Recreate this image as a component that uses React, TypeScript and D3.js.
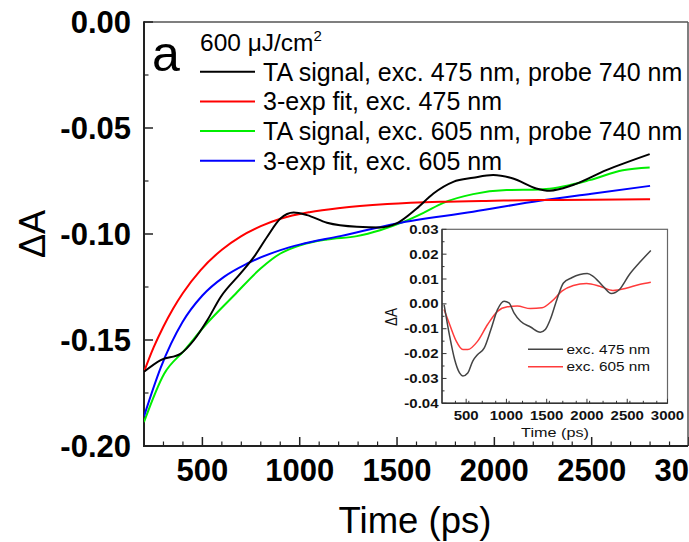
import React from "react";
import * as d3 from "d3";

// ---------- data ----------
const taX475 = [200, 286, 389, 457, 525, 594, 696, 765, 833, 901, 969, 1038, 1140, 1294, 1413, 1498, 1601, 1687, 1789, 1891, 1994, 2096, 2215, 2284, 2404, 2575, 2798];
const taY475 = [-0.1650, -0.1595, -0.1564, -0.150, -0.1407, -0.1297, -0.1186, -0.1108, -0.1013, -0.0927, -0.0899, -0.0911, -0.0947, -0.0966, -0.0969, -0.0950, -0.0880, -0.0809, -0.0754, -0.0735, -0.0722, -0.0738, -0.0785, -0.0796, -0.0769, -0.0699, -0.0623];

const fitX475 = [200, 250, 300, 350, 400, 491, 600, 696, 800, 901, 1050, 1208, 1450, 1721, 2000, 2233, 2500, 2800];
const fitY475 = [-0.165, -0.1534, -0.1436, -0.1351, -0.1278, -0.1170, -0.1074, -0.1012, -0.0963, -0.0928, -0.0897, -0.0877, -0.0859, -0.0848, -0.0843, -0.0840, -0.0838, -0.0836];

const taX605 = [200, 303, 406, 525, 662, 799, 901, 1004, 1140, 1294, 1413, 1533, 1636, 1738, 1891, 2063, 2233, 2266, 2489, 2660, 2798];
const taY605 = [-0.1887, -0.166, -0.155, -0.142, -0.129, -0.1163, -0.1092, -0.1053, -0.1026, -0.1010, -0.0982, -0.0943, -0.0900, -0.0853, -0.0812, -0.0793, -0.0790, -0.0788, -0.0746, -0.0699, -0.0686];

const fitX605 = [200, 286, 398, 500, 611, 731, 901, 1004, 1208, 1498, 1891, 2233, 2500, 2800];
const fitY605 = [-0.186, -0.163, -0.1415, -0.129, -0.1202, -0.1139, -0.1076, -0.1049, -0.1010, -0.0950, -0.0895, -0.0843, -0.0810, -0.0773];

const insX475 = [226, 295, 357, 418, 459, 520, 582, 643, 725, 807, 889, 971, 1032, 1094, 1176, 1299, 1421, 1483, 1544, 1626, 1708, 1810, 1913, 2003, 2077, 2199, 2302, 2404, 2527, 2650, 2793];
const insY475 = [-0.0003, -0.013, -0.0224, -0.0278, -0.0290, -0.0278, -0.0230, -0.0204, -0.0177, -0.0103, -0.0023, 0.0011, 0.0004, -0.0036, -0.0070, -0.0093, -0.0114, -0.0103, -0.0063, 0.0017, 0.0084, 0.0105, 0.0118, 0.0122, 0.0111, 0.0071, 0.0042, 0.0058, 0.0118, 0.0165, 0.0215];

const insX605 = [226, 295, 377, 459, 520, 643, 766, 889, 1012, 1135, 1299, 1442, 1565, 1688, 1831, 1995, 2159, 2322, 2486, 2650, 2793];
const insY605 = [-0.0023, -0.0083, -0.0150, -0.0184, -0.0184, -0.0150, -0.0083, -0.0030, -0.0012, -0.0009, -0.0019, -0.0016, 0.0011, 0.0051, 0.0074, 0.0082, 0.0071, 0.0054, 0.0063, 0.0078, 0.0087];

const mainXTicks = [500, 1000, 1500, 2000, 2500, 3000];
const mainYTicks = [0, -0.05, -0.1, -0.15, -0.2];
const insXTicks = [500, 1000, 1500, 2000, 2500, 3000];
const insYTicks = [0.03, 0.02, 0.01, 0, -0.01, -0.02, -0.03, -0.04];

const legendLabels = [
  "TA signal, exc. 475 nm, probe 740 nm",
  "3-exp fit, exc. 475 nm",
  "TA signal, exc. 605 nm, probe 740 nm",
  "3-exp fit, exc. 605 nm",
];
const legendColors = ["#000000", "#ff0000", "#00ee00", "#0000ff"];
const insLegendLabels = ["exc. 475 nm", "exc. 605 nm"];
const insColors = ["#444444", "#ff3b3b"];

const FONT = "'Liberation Sans', Arial, Helvetica, sans-serif";

export default function App() {
  const W = 689, H = 542;
  const x = d3.scaleLinear().domain([200, 3000]).range([144, 689]);
  const y = d3.scaleLinear().domain([-0.2, 0]).range([446, 22]);
  const xi = d3.scaleLinear().domain([200, 3000]).range([442, 667.5]);
  const yi = d3.scaleLinear().domain([-0.04, 0.03]).range([403.3, 229.3]);

  const mk = (xs: number[], ys: number[], sx: any, sy: any) =>
    d3.line<number>().x((_, i) => sx(xs[i])).y((d) => sy(d)).curve(d3.curveMonotoneX)(ys) || "";

  const mainSeries = [
    { xs: taX605, ys: taY605, c: legendColors[2] },
    { xs: fitX605, ys: fitY605, c: legendColors[3] },
    { xs: fitX475, ys: fitY475, c: legendColors[1] },
    { xs: taX475, ys: taY475, c: legendColors[0] },
  ];

  const minorX = d3.range(300, 3000, 100).filter((v) => v % 500 !== 0);
  const minorY = d3.range(-0.175, 0, 0.05);
  const insMinorX = d3.range(200, 3000, 500 / 3).map((v) => Math.round(v)).filter((v) => v % 500 > 5 && v % 500 < 495 && v > 210);
  const insMinorY = d3.range(-0.035, 0.03, 0.01);

  const x0 = 144, x1 = 688, y0 = 446, y1 = 22;
  const ix0 = 442, ix1 = 667.5, iy0 = 403.3, iy1 = 229.3;

  return (
    <svg width={W} height={H} style={{ position: "absolute", left: 0, top: 0, background: "#fff" }} fontFamily={FONT}>
      <rect x={0} y={0} width={W} height={H} fill="#fff" />
      <defs>
        <clipPath id="mainclip">
          <rect x={x0} y={y1} width={x1 - x0} height={y0 - y1} />
        </clipPath>
      </defs>

      {/* main frame */}
      <line x1={x0} x2={x1} y1={y1} y2={y1} stroke="#555" strokeWidth={1.5} />
      <line x1={x1} x2={x1} y1={y1} y2={y0} stroke="#555" strokeWidth={1.5} />
      <line x1={x0} x2={x0} y1={y1 - 0.75} y2={y0} stroke="#222" strokeWidth={2} />
      <line x1={x0 - 1} x2={x1} y1={y0} y2={y0} stroke="#222" strokeWidth={2} />

      {/* main ticks */}
      {mainXTicks.map((t) => (
        <line key={"mx" + t} x1={x(t)} x2={x(t)} y1={y0} y2={y0 - 9} stroke="#222" strokeWidth={1.5} />
      ))}
      {minorX.map((t) => (
        <line key={"mmx" + t} x1={x(t)} x2={x(t)} y1={y0} y2={y0 - 4.5} stroke="#222" strokeWidth={1.2} />
      ))}
      {mainYTicks.map((t) => (
        <line key={"my" + t} x1={x0} x2={x0 + 9} y1={y(t)} y2={y(t)} stroke="#222" strokeWidth={1.5} />
      ))}
      {minorY.map((t) => (
        <line key={"mmy" + t} x1={x0} x2={x0 + 4.5} y1={y(t)} y2={y(t)} stroke="#222" strokeWidth={1.2} />
      ))}

      {/* main tick labels */}
      {mainXTicks.map((t) => (
        <text key={"lx" + t} x={x(t)} y={480.5} textAnchor="middle" fontSize={31} fontWeight="bold" fill="#000">
          {t}
        </text>
      ))}
      {mainYTicks.map((t) => (
        <text key={"ly" + t} x={131} y={y(t) + 11} textAnchor="end" fontSize={31} fontWeight="bold" fill="#000">
          {d3.format(".2f")(t).replace("−", "-")}
        </text>
      ))}

      {/* axis titles */}
      <text x={415} y={533} textAnchor="middle" fontSize={36.5} fill="#000">Time (ps)</text>
      <text transform={`translate(45,234) rotate(-90)`} textAnchor="middle" fontSize={36} fill="#000">ΔA</text>

      {/* main curves */}
      <g clipPath="url(#mainclip)">
        {mainSeries.map((s, i) => (
          <path key={"ms" + i} d={mk(s.xs, s.ys, x, y)} fill="none" stroke={s.c} strokeWidth={2} />
        ))}
      </g>

      {/* panel letter and legend */}
      <text x={152} y={71} fontSize={50} fill="#000">a</text>
      <text x={200} y={51} fontSize={24.5} fill="#000">
        600 μJ/cm<tspan fontSize={15} dy={-10}>2</tspan>
      </text>
      {legendLabels.map((lab, i) => {
        const ly = 71.7 + i * 29.7;
        return (
          <g key={"lg" + i}>
            <line x1={200} x2={255} y1={ly} y2={ly} stroke={legendColors[i]} strokeWidth={2} />
            <text x={263} y={ly + 9} fontSize={25} fill="#000">{lab}</text>
          </g>
        );
      })}

      {/* inset */}
      <rect x={ix0} y={iy1} width={ix1 - ix0} height={iy0 - iy1} fill="#fff" stroke="#666" strokeWidth={1.2} />
      <line x1={ix0} x2={ix1} y1={iy0} y2={iy0} stroke="#333" strokeWidth={1.4} />
      <line x1={ix0} x2={ix0} y1={iy1} y2={iy0} stroke="#333" strokeWidth={1.4} />
      {insXTicks.map((t) => (
        <line key={"ix" + t} x1={xi(t)} x2={xi(t)} y1={iy0} y2={iy0 - 4.5} stroke="#333" strokeWidth={1} />
      ))}
      {insMinorX.map((t) => (
        <line key={"imx" + t} x1={xi(t)} x2={xi(t)} y1={iy0} y2={iy0 - 2.5} stroke="#333" strokeWidth={1} />
      ))}
      {insYTicks.map((t) => (
        <line key={"iy" + t} x1={ix0} x2={ix0 + 4.5} y1={yi(t)} y2={yi(t)} stroke="#333" strokeWidth={1} />
      ))}
      {insMinorY.map((t) => (
        <line key={"imy" + t} x1={ix0} x2={ix0 + 2.5} y1={yi(t)} y2={yi(t)} stroke="#333" strokeWidth={1} />
      ))}
      {insXTicks.map((t) => (
        <text key={"ilx" + t} transform={`translate(${xi(t)},419.5) scale(1.2,1)`} textAnchor="middle" fontSize={12.5} fontWeight="bold" fill="#111">
          {t}
        </text>
      ))}
      {insYTicks.map((t) => (
        <text key={"ily" + t} transform={`translate(438.5,${yi(t) + 4.5}) scale(1.2,1)`} textAnchor="end" fontSize={12.5} fontWeight="bold" fill="#111">
          {d3.format(".2f")(t).replace("−", "-")}
        </text>
      ))}
      <text transform={`translate(555,437) scale(1.2,1)`} textAnchor="middle" fontSize={13.5} fill="#111">Time (ps)</text>
      <text transform={`translate(397,317) rotate(-90) scale(1,1.2)`} textAnchor="middle" fontSize={13.5} fill="#111">ΔA</text>

      <path d={mk(insX605, insY605, xi, yi)} fill="none" stroke={insColors[1]} strokeWidth={1.5} />
      <path d={mk(insX475, insY475, xi, yi)} fill="none" stroke={insColors[0]} strokeWidth={1.5} />

      {insLegendLabels.map((lab, i) => {
        const ly = 349.3 + i * 17.4;
        return (
          <g key={"il" + i}>
            <line x1={528} x2={563} y1={ly} y2={ly} stroke={insColors[i]} strokeWidth={1.5} />
            <text transform={`translate(566.5,${ly + 4.5}) scale(1.2,1)`} fontSize={12.8} fill="#111">{lab}</text>
          </g>
        );
      })}
    </svg>
  );
}
